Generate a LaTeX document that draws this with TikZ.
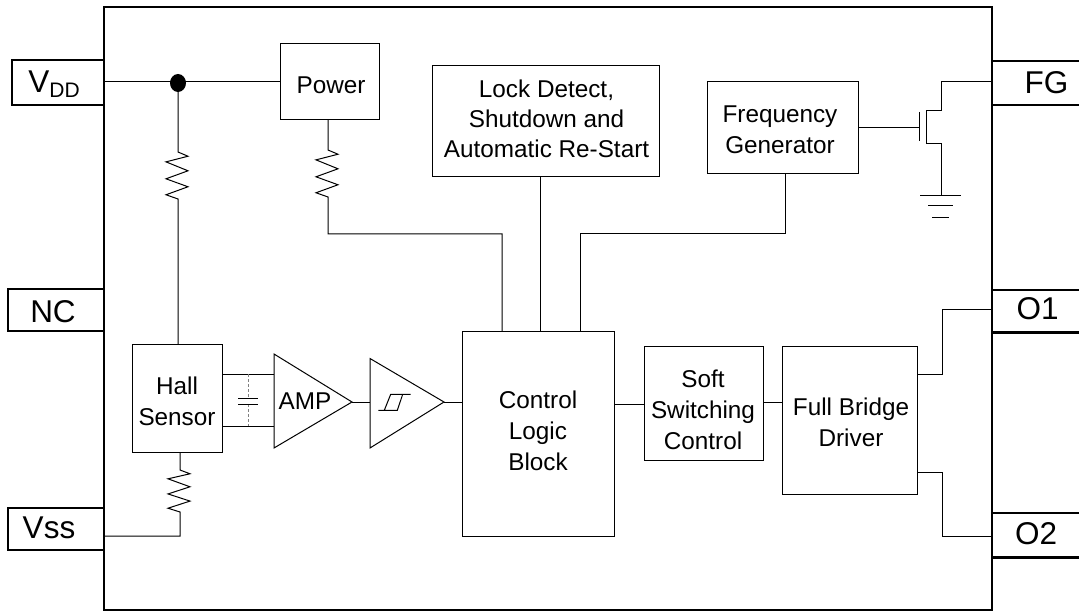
\documentclass[tikz,border=0pt]{standalone}
\usepackage{fontspec}
\setmainfont{Liberation Sans}
\usetikzlibrary{calc, shapes.geometric}

\tikzset{
  wire/.style = {line width = 1},
  block/.style = {draw, line width = 1, outer sep = 0, inner sep = 0},
  blockname/.style = {inner sep = 0, align = center, font = \fontsize{24.3}{31}\selectfont},
  pinline/.style = {line width = 2.9},
  pinname/.style = {inner sep = 0, font = \fontsize{31.5}{31}\selectfont},
  zigzag/.style = {to path = {
    -- ($(\tikztostart)!.09!(\tikztotarget) + (10, 0)$)
    -- ($(\tikztostart)!.21!(\tikztotarget) + (-12, 0)$)
    -- ($(\tikztostart)!.40!(\tikztotarget) + (10, 0)$)
    -- ($(\tikztostart)!.57!(\tikztotarget) + (-12, 0)$)
    -- ($(\tikztostart)!.74!(\tikztotarget) + (10, 0)$)
    -- ($(\tikztostart)!.91!(\tikztotarget) + (-12, 0)$)
    -- (\tikztotarget)}}
}

\begin{document}
\begin{tikzpicture}[x = 1pt, y = -1pt]
  \useasboundingbox (0, 0) rectangle (1079, 612);

  % package outline
  \node (chip) [draw, pinline, outer sep = 0, minimum width = 888, minimum height = 603] at (548, 308.5) {};

  % pins
  \draw [pinline] (12, 60) rectangle (104, 105);
  \draw [pinline] (8, 289) rectangle (104, 331);
  \draw [pinline] (8, 508) rectangle (104, 550);
  \draw [pinline] (992, 61) -- (1079, 61) (992, 105) -- (1079, 105);
  \draw [pinline] (992, 290) -- (1079, 290) (992, 332.5) -- (1079, 332.5);
  \draw [pinline] (992, 513) -- (1079, 513) (992, 557.5) -- (1079, 557.5);

  \node (vdd) [pinname] at (54, 84) {V\raisebox{-5pt}{\fontsize{21}{21}\selectfont DD}};
  \node (nc) [pinname] at (53, 312) {NC};
  \node (vss) [pinname] at (49, 528) {Vss};
  \node (fg) [pinname] at (1046.5, 83) {FG};
  \node (oa) [pinname] at (1037.5, 308.5) {O1};
  \node (ob) [pinname] at (1036, 534) {O2};

  % blocks
  \node (power) [block, minimum width = 99, minimum height = 76] at (329.5, 82) {};
  \node (lock) [block, minimum width = 227, minimum height = 111] at (545.5, 121.5) {};
  \node (freq) [block, minimum width = 151, minimum height = 92] at (782.5, 128) {};
  \node (hall) [block, minimum width = 90, minimum height = 108] at (177, 398) {};
  \node (ctrl) [block, minimum width = 152, minimum height = 204] at (538, 434) {};
  \node (soft) [block, minimum width = 119, minimum height = 114] at (703.5, 403) {};
  \node (full) [block, minimum width = 135, minimum height = 148] at (849.5, 420) {};

  \node (powername) [blockname] at (331, 85) {Power};
  \node (lockname) [blockname, font = \fontsize{24.3}{30}\selectfont] at (546.5, 119) {Lock Detect,\\Shutdown and\\Automatic Re-Start};
  \node (freqname) [blockname] at (780, 129.5) {Frequency\\Generator};
  \node (hallname) [blockname] at (177, 401.5) {Hall\hspace{12pt}\\Sensor};
  \node (ctrlname) [blockname] at (538, 431) {Control\\Logic\\Block};
  \node (softname) [blockname] at (703, 410) {Soft\\Switching\\Control};
  \node (fullname) [blockname] at (851, 422) {Full Bridge\\Driver};

  % amplifier and comparator
  \coordinate (amptip) at (352, 402);
  \coordinate (cmptip) at (444, 402);
  \draw [block] (274, 354) -- (amptip) -- (274, 448) -- cycle;
  \draw [block] (370, 358.5) -- (cmptip) -- (370, 448) -- cycle;
  \node (amp) [blockname] at (305, 401) {AMP};
  \draw [wire] (amptip) -- (370, 402);
  \draw [wire] (cmptip) -- (ctrl.west |- cmptip);
  \draw [wire] (378.3, 410.3) -- (397.3, 410.3) -- (402.7, 394.3)
    (384.3, 410.3) -- (390.7, 394.3) -- (410.7, 394.3);

  % supply rail
  \coordinate (rail) at (178, 82);
  \coordinate (ra) at (178, 152);
  \coordinate (rb) at (178, 199);
  \draw [wire] (chip.west |- rail) -- (power.west |- rail);
  \node (dot) [fill, ellipse, inner sep = 0, minimum width = 16, minimum height = 18] at (178, 83) {};
  \draw [wire] (dot) -- (ra) to [zigzag] (rb) -- (hall.north -| rb);

  % power to logic
  \coordinate (rc) at (328, 150);
  \coordinate (rd) at (328, 197);
  \draw [wire] (power.south -| rc) -- (rc) to [zigzag] (rd) -- (328, 234) -- (502, 234) -- (ctrl.north -| 502, 0);
  \draw [wire] (lock.south -| 540, 0) -- (ctrl.north -| 540, 0);
  \draw [wire] (freq.south -| 785, 0) -- (785, 234) -- (580, 234) -- (ctrl.north -| 580, 0);

  % open drain output
  \coordinate (drain) at (941, 82);
  \coordinate (gnd) at (941, 196);
  \draw [wire] (freq.east |- 0, 128) -- (919, 128);
  \draw [wire] (919, 112) -- (919, 141);
  \draw [wire] (chip.east |- drain) -- (drain) -- (941, 110.5) -- (926.7, 110.5)
    -- (926.7, 144) -- (941, 144) -- (gnd);
  \draw [wire] (920, 196) -- (961, 196);
  \draw [wire] (928, 206) -- (953, 206);
  \draw [wire] (932, 218) -- (949, 218);

  % hall sensor
  \draw [wire] (hall.east |- 0, 374) -- (274, 374);
  \draw [wire] (hall.east |- 0, 426) -- (274, 426);
  \draw [wire, densely dashed, gray] (248, 374) -- (248, 398) (248, 404) -- (248, 426);
  \draw [wire] (238, 398) -- (258, 398) (238, 404) -- (258, 404);
  \coordinate (re) at (180, 470);
  \coordinate (rf) at (180, 512);
  \draw [wire] (hall.south -| re) -- (re) to [zigzag] (rf) -- (180, 536) -- (chip.west |- 0, 536);

  % outputs
  \draw [wire] (ctrl.east |- 0, 404) -- (soft.west |- 0, 404);
  \draw [wire] (soft.east |- 0, 402) -- (full.west |- 0, 402);
  \draw [wire] (full.east |- 0, 374) -- (942, 374) -- (942, 310) -- (chip.east |- 0, 310);
  \draw [wire] (full.east |- 0, 472) -- (942, 472) -- (942, 536) -- (chip.east |- 0, 536);
\end{tikzpicture}
\end{document}
